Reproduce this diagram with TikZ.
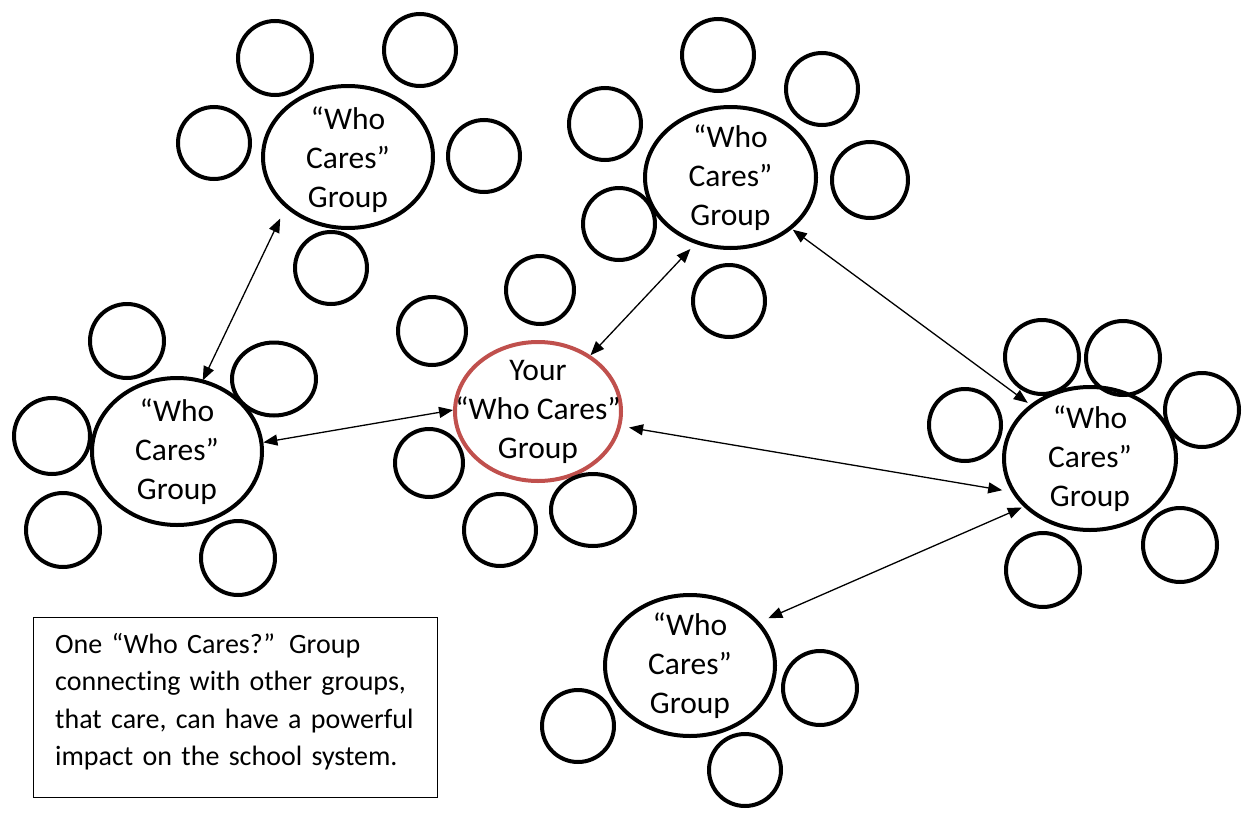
\documentclass[tikz,border=0pt]{standalone}
\usepackage{fontspec}
\setmainfont{Carlito}[Ligatures=NoCommon]
\usetikzlibrary{shapes.geometric,arrows.meta}
\definecolor{groupred}{RGB}{192,80,77}
\tikzset{
  group/.style={ellipse, draw, line width=4pt, inner sep=0pt},
  grouptext/.style={align=center, inner sep=0pt, font=\fontsize{31.5}{39}\selectfont},
  member/.style={circle, draw, line width=4pt, inner sep=0pt, minimum size=#1},
  memberoval/.style 2 args={ellipse, draw, line width=4pt, inner sep=0pt, minimum width=#1, minimum height=#2},
  link/.style={{Triangle[length=14pt,width=11pt]}-{Triangle[length=14pt,width=11pt]}, line width=1.3pt},
  notebox/.style={rectangle, draw, line width=1pt, anchor=north west, minimum width=404pt, minimum height=180pt},
  notetext/.style={anchor=base west, inner sep=0pt, text width=380pt, align=left, font=\fontsize{28}{37.5}\selectfont},
}
\begin{document}
\begin{tikzpicture}[x=1pt,y=-1pt]
\useasboundingbox (0,0) rectangle (1243,814);

% group ellipses
\node[group, minimum width=170, minimum height=142] (tl) at (348,157) {};
\node[group, minimum width=171, minimum height=141] (tr) at (730.5,177.5) {};
\node[group, minimum width=170, minimum height=147] (l) at (177,451.5) {};
\node[group, draw=groupred, minimum width=166, minimum height=139] (c) at (538,411.5) {};
\node[group, minimum width=172, minimum height=143] (r) at (1090,458.5) {};
\node[group, minimum width=170, minimum height=141] (b) at (690,665.5) {};

% group names
\node[grouptext, yshift=-3pt] (tl-name) at (tl) {“Who\\Cares”\\Group};
\node[grouptext] (tr-name) at (tr) {“Who\\Cares”\\Group};
\node[grouptext] (l-name) at (l) {“Who\\Cares”\\Group};
\node[grouptext] (c-name) at (c) {Your\\“Who Cares”\\Group};
\node[grouptext] (r-name) at (r) {“Who\\Cares”\\Group};
\node[grouptext] (b-name) at (b) {“Who\\Cares”\\Group};

% members around each group
\foreach \n/\x/\y/\d in {
  tla/275/58/74, tlb/420/50/72, tlc/214/143/72, tld/484/156/72, tle/331/268/72,
  tra/718/55/72, trb/822/89/72, trc/605/124/72, trd/870/180/76, tre/619/224/72, trf/729/301/72,
  ca/540/290/68, cb/432/331/68, cc/429/463/68, cd/500/530/72,
  la/127/341/74, lc/52/436/76, ld/63/530/74, le/238/558/74,
  ra/1042/357/74, rb/1123/358/74, rc/1202/410/74, rd/965/425/72, re/1180/545/74, rf/1043/570/74,
  ba/820/688/74, bb/578/726/72, bc/745/770/72}
  \node[member=\d] (\n) at (\x,\y) {};
\node[memberoval={84}{72}] (ce) at (593,510) {};
\node[memberoval={84}{73}] (lb) at (274,379) {};

% links between groups
\draw[link, shorten <=12pt, shorten >=-1pt] (tl.219) -- (l.70);
\draw[link] (l.6) -- (c.179);
\draw[link, shorten >=7pt] (c.47) -- (tr.242);
\draw[link, shorten <=1pt, shorten >=3pt] (tr.320) -- (r.138);
\draw[link, shorten <=8pt, shorten >=9.5pt] (c.350) -- (r.203);
\draw[link, shorten <=2pt, shorten >=9.5pt] (r.216) -- (b.32);

% note
\node[notebox] (note) at (33,617) {};
\node[notetext] (note-text) at (55,653) {One “Who Cares?” Group\\connecting with other groups,\\that care, can have a powerful\\impact on the school system.};
\end{tikzpicture}
\end{document}
